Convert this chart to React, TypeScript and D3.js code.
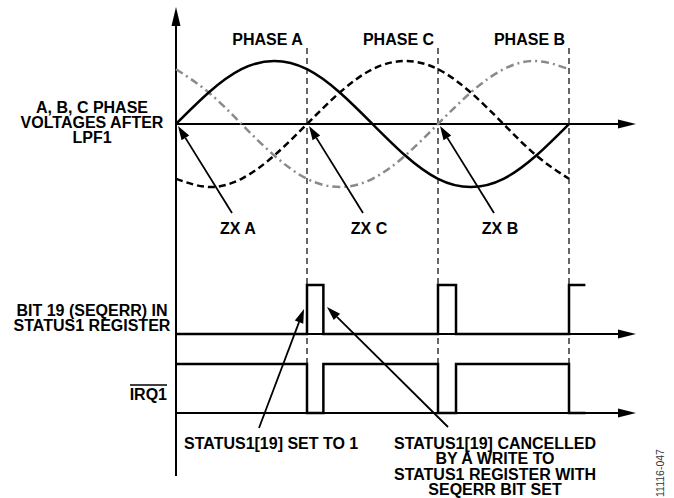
import * as d3 from 'd3';

const ANGLES = [0, 30, 60, 90, 120, 150, 180, 210, 240, 270, 300, 330, 360];
const PHASE_A = [0, 0.5, 0.87, 1, 0.87, 0.5, 0, -0.5, -0.87, -1, -0.87, -0.5, 0];
const PHASE_C = [-0.87, -1, -0.87, -0.5, 0, 0.5, 0.87, 1, 0.87, 0.5, 0, -0.5, -0.87];
const PHASE_B = [0.87, 0.5, 0, -0.5, -0.87, -1, -0.87, -0.5, 0, 0.5, 0.87, 1, 0.87];

// zero crossings that mark the phase sequence
const ZX_LABELS = ['ZX A', 'ZX C', 'ZX B'];
const ZX_ANGLES = [0, 120, 240];
const PHASE_LABELS = ['PHASE A', 'PHASE C', 'PHASE B'];

// SEQERR pulses: start angle, width (deg); last one is cut off at the right
const PULSE_START = [120, 240, 360];
const PULSE_WIDTH = [15, 16.5, 15];
const PULSE_CLOSED = [true, true, false];

const W = 674;
const H = 498;
const FONT = '"Liberation Sans", Arial, Helvetica, sans-serif';

const x = d3.scaleLinear().domain([0, 360]).range([176, 569]);
const AXIS_END = 636;
const AXIS_X = 176;

const yV = d3.scaleLinear().domain([-1, 1]).range([187, 61]);
const ySeq = d3.scaleLinear().domain([0, 1]).range([334, 285]);
const yIrq = d3.scaleLinear().domain([0, 1]).range([413, 364]);

function ArrowH({ y }: { y: number }) {
  return (
    <g>
      <line x1={AXIS_X} x2={AXIS_END - 14} y1={y} y2={y} stroke="#000" strokeWidth={2} />
      <path d={`M${AXIS_END},${y} L${AXIS_END - 18},${y - 4.5} L${AXIS_END - 18},${y + 4.5} Z`} fill="#000" />
    </g>
  );
}

// line with a filled arrow head at (x2,y2)
function Pointer({ x1, y1, x2, y2 }: { x1: number; y1: number; x2: number; y2: number }) {
  const a = Math.atan2(y2 - y1, x2 - x1);
  const len = 14;
  const hw = 4.5;
  const bx = x2 - len * Math.cos(a);
  const by = y2 - len * Math.sin(a);
  const px = -Math.sin(a) * hw;
  const py = Math.cos(a) * hw;
  return (
    <g>
      <line x1={x1} y1={y1} x2={bx} y2={by} stroke="#000" strokeWidth={1.8} />
      <path d={`M${x2},${y2} L${bx + px},${by + py} L${bx - px},${by - py} Z`} fill="#000" />
    </g>
  );
}

export default function App() {
  const wave = d3
    .line<number>()
    .x((_d, i) => x(ANGLES[i]))
    .y(d => yV(d))
    .curve(d3.curveNatural);

  const seqPath = () => {
    let d = `M${AXIS_X},${ySeq(0)}`;
    PULSE_START.forEach((s, i) => {
      const e = s + PULSE_WIDTH[i];
      d += ` L${x(s)},${ySeq(0)} L${x(s)},${ySeq(1)} L${x(e)},${ySeq(1)}`;
      if (PULSE_CLOSED[i]) d += ` L${x(e)},${ySeq(0)}`;
    });
    return d;
  };
  const irqPath = () => {
    let d = `M${AXIS_X},${yIrq(1)}`;
    PULSE_START.forEach((s, i) => {
      const e = s + PULSE_WIDTH[i];
      d += ` L${x(s)},${yIrq(1)} L${x(s)},${yIrq(0)} L${x(e)},${yIrq(0)}`;
      if (PULSE_CLOSED[i]) d += ` L${x(e)},${yIrq(1)}`;
    });
    return d;
  };

  const txt = { fontFamily: FONT, fontWeight: 700, fontSize: 16, fill: '#000' } as const;

  return (
    <svg width={W} height={H} style={{ position: 'absolute', left: 0, top: 0, background: '#fff' }}>
      {/* vertical axis */}
      <line x1={AXIS_X} x2={AXIS_X} y1={22} y2={476} stroke="#000" strokeWidth={2} />
      <path d={`M${AXIS_X},7 L${AXIS_X - 4.5},26 L${AXIS_X + 4.5},26 Z`} fill="#000" />

      {/* phase boundaries */}
      {PULSE_START.map(s => (
        <line key={s} x1={x(s)} x2={x(s)} y1={48} y2={yIrq(1)} stroke="#000" strokeWidth={1.2} strokeDasharray="6,4" />
      ))}

      <ArrowH y={yV(0)} />
      <ArrowH y={ySeq(0)} />
      <ArrowH y={yIrq(0)} />

      {/* phase voltages */}
      <path d={wave(PHASE_B) ?? ''} fill="none" stroke="#8a8a8a" strokeWidth={2.5} strokeDasharray="8,4,2,4" />
      <path d={wave(PHASE_C) ?? ''} fill="none" stroke="#000" strokeWidth={2.5} strokeDasharray="7,4" />
      <path d={wave(PHASE_A) ?? ''} fill="none" stroke="#000" strokeWidth={2.5} />

      {/* digital signals */}
      <path d={seqPath()} fill="none" stroke="#000" strokeWidth={2.5} />
      <path d={irqPath()} fill="none" stroke="#000" strokeWidth={2.5} />

      {/* phase labels, set right of each segment's middle */}
      {PHASE_LABELS.map((l, i) => (
        <text key={l} {...txt} x={(x(ZX_ANGLES[i]) + x(ZX_ANGLES[i] + 120)) / 2 + 26} y={45} textAnchor="middle">
          {l}
        </text>
      ))}

      {/* zero crossing annotations */}
      {ZX_LABELS.map((l, i) => {
        const zx = x(ZX_ANGLES[i]);
        return (
          <g key={l}>
            <Pointer x1={zx + 56} y1={213} x2={zx + 2} y2={yV(0) + 2} />
            <text {...txt} x={zx + 62} y={234} textAnchor="middle">
              {l}
            </text>
          </g>
        );
      })}

      {/* left labels */}
      <text {...txt} textAnchor="middle">
        <tspan x={92} y={113}>A, B, C PHASE</tspan>
        <tspan x={92} y={128}>VOLTAGES AFTER</tspan>
        <tspan x={92} y={143}>LPF1</tspan>
      </text>
      <text {...txt} textAnchor="middle">
        <tspan x={92} y={316}>BIT 19 (SEQERR) IN</tspan>
        <tspan x={92} y={331}>STATUS1 REGISTER</tspan>
      </text>
      <text {...txt} x={167} y={400} textAnchor="end">IRQ1</text>
      <line x1={130} x2={167} y1={385} y2={385} stroke="#000" strokeWidth={1.5} />

      {/* status annotations */}
      <Pointer x1={259} y1={428} x2={304} y2={309} />
      <Pointer x1={448} y1={427} x2={327} y2={307} />
      <text {...txt} x={184} y={449}>STATUS1[19] SET TO 1</text>
      <text {...txt} textAnchor="middle">
        <tspan x={495} y={449}>STATUS1[19] CANCELLED</tspan>
        <tspan x={495} y={464}>BY A WRITE TO</tspan>
        <tspan x={495} y={480}>STATUS1 REGISTER WITH</tspan>
        <tspan x={495} y={495}>SEQERR BIT SET</tspan>
      </text>

      <text
        x={664}
        y={473}
        transform="rotate(-90 664 473)"
        textAnchor="middle"
        fontFamily={FONT}
        fontSize={10.5}
        fill="#333"
      >
        11116-047
      </text>
    </svg>
  );
}
